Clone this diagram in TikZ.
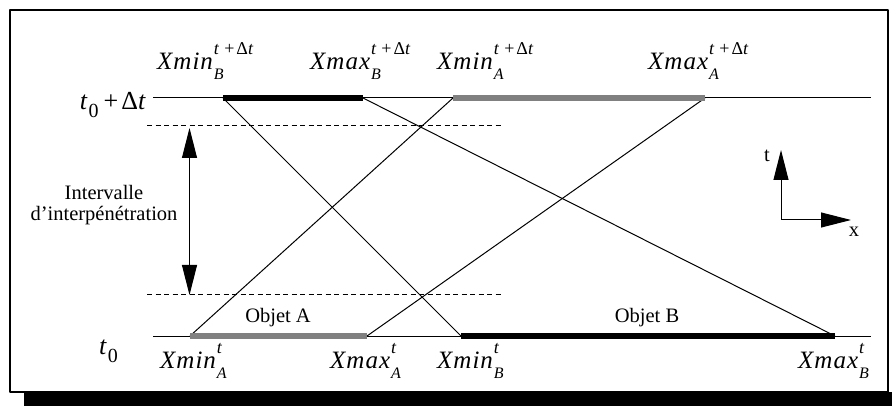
\documentclass[tikz,border=0pt]{standalone}
\usepackage{fontspec}
\setmainfont{Liberation Serif}
\newfontfamily\lblfont[LetterSpace=4]{Liberation Serif}
\usetikzlibrary{arrows.meta}
% X label with stacked sub/superscript
\newcommand{\xlbl}[3]{{\lblfont\itshape #1}\kern1pt\rlap{\raisebox{-10pt}{\fontsize{16}{16}\selectfont\itshape #2}}\raisebox{15pt}{\fontsize{18}{18}\selectfont #3}}
\newcommand{\tdt}{\textit{t}\hspace{5pt}+\hspace{2pt}Δ\textit{t}}
\newcommand{\tzero}{\textit{t}\kern1pt\raisebox{-8pt}{\fontsize{20}{20}\selectfont 0}}

\begin{document}
\begin{tikzpicture}[x=1pt,y=-1pt,line join=round,>={Triangle[length=30pt,width=15pt]}]
  \tikzset{
    thinline/.style={line width=1pt},
    barA/.style={line width=6pt,gray},
    barB/.style={line width=6pt,black},
    limit/.style={line width=1pt,dash pattern=on 5pt off 3.5pt},
    lbl/.style={inner sep=0pt,font=\fontsize{25}{25}\selectfont},
    txt/.style={inner sep=0pt,font=\fontsize{20.5}{21.5}\selectfont},
  }
  \useasboundingbox (0,0) rectangle (892,406);
  % frame with shadow
  \fill (24,392) rectangle (892,406);
  \draw[line width=1.3pt,fill=white] (10,10) rectangle (888,392);
  % time lines
  \coordinate (top0) at (153,98);   \coordinate (top1) at (871,98);
  \coordinate (bot0) at (153,336);  \coordinate (bot1) at (871,336);
  \draw[thinline] (top0) -- (top1);
  \draw[thinline] (bot0) -- (bot1);
  % object extents
  \coordinate (minBtop) at (223,98);  \coordinate (maxBtop) at (363,98);
  \coordinate (minAtop) at (453,98);  \coordinate (maxAtop) at (705,98);
  \coordinate (minAbot) at (190,336); \coordinate (maxAbot) at (367,336);
  \coordinate (minBbot) at (461,336); \coordinate (maxBbot) at (835,336);
  \draw[thinline] (minBtop) -- (minBbot);
  \draw[thinline] (maxBtop) -- (maxBbot);
  \draw[thinline] (minAtop) -- (minAbot);
  \draw[thinline] (maxAtop) -- (maxAbot);
  \draw[barB] (minBtop) -- (maxBtop);
  \draw[barA] (minAtop) -- (maxAtop);
  \draw[barA] (minAbot) -- (maxAbot);
  \draw[barB] (minBbot) -- (maxBbot);
  % interpenetration interval
  \coordinate (lim1a) at (147,126); \coordinate (lim1b) at (503,126);
  \coordinate (lim0a) at (147,295); \coordinate (lim0b) at (503,295);
  \draw[limit] (lim1a) -- (lim1b);
  \draw[limit] (lim0a) -- (lim0b);
  \coordinate (ivtop) at (189.5,128); \coordinate (ivbot) at (189.5,295);
  \draw[thinline,<->] (ivtop) -- (ivbot);
  \node[txt,align=center] (interval) at (104,205) {Intervalle\\d’interpénétration};
  % time labels
  \node[lbl,anchor=base east,font=\fontsize{26}{26}\selectfont] (tdt) at (146,110) {\tzero\hspace{5pt}+\hspace{3pt}Δ\textit{t}};
  \node[lbl,anchor=base west,font=\fontsize{26}{26}\selectfont] (t0) at (99,354) {\tzero};
  % extent labels
  \node[lbl,anchor=base west] (lminB1) at (157,70) {\xlbl{Xmin}{B}{\tdt}};
  \node[lbl,anchor=base west] (lmaxB1) at (310,70) {\xlbl{Xmax}{B}{\tdt}};
  \node[lbl,anchor=base west] (lminA1) at (437,70) {\xlbl{Xmin}{A}{\tdt}};
  \node[lbl,anchor=base west] (lmaxA1) at (648,70) {\xlbl{Xmax}{A}{\tdt}};
  \node[lbl,anchor=base west] (lminA0) at (160,368) {\xlbl{Xmin}{A}{\textit{t}}};
  \node[lbl,anchor=base west] (lmaxA0) at (330,368) {\xlbl{Xmax}{A}{\textit{t}}};
  \node[lbl,anchor=base west] (lminB0) at (437,368) {\xlbl{Xmin}{B}{\textit{t}}};
  \node[lbl,anchor=base west] (lmaxB0) at (798,368) {\xlbl{Xmax}{B}{\textit{t}}};
  % objects
  \node[txt,anchor=base] (objA) at (278,323) {Objet A};
  \node[txt,anchor=base] (objB) at (647,323) {Objet B};
  % axes
  \coordinate (orig) at (781,220);
  \coordinate (taxis) at (781,150);
  \coordinate (xaxis) at (851,220);
  \draw[thinline,->] (orig) -- (taxis);
  \draw[thinline,->] (orig) -- (xaxis);
  \node[txt,anchor=base] (tl) at (767,162) {t};
  \node[txt,anchor=base] (xl) at (854,237) {x};
\end{tikzpicture}
\end{document}
